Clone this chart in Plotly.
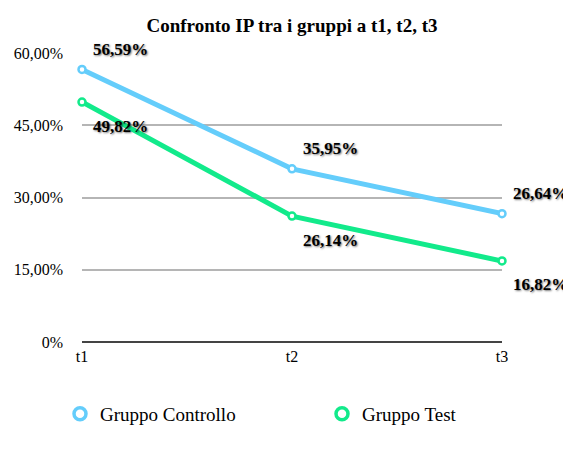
import plotly.graph_objects as go

categories = ["t1", "t2", "t3"]
controllo = [56.59, 35.95, 26.64]
test = [49.82, 26.14, 16.82]
series_names = ["Gruppo Controllo", "Gruppo Test"]
ytick_vals = [0, 15, 30, 45, 60]
ytick_text = ["0%", "15,00%", "30,00%", "45,00%", "60,00%"]

BLUE = "#64cdfb"
GREEN = "#12ea8b"
# the page body has an 8px margin, so the figure is drawn 8px in from the window edge
OFF = 8
W, H = 571 - OFF, 459 - OFF
ML, MR, MT, MB = 82 - OFF, 69, 53 - OFF, 117
PW, PH = W - ML - MR, H - MT - MB

def px2x(px):
    return (px - OFF - ML) / PW

def px2y(py):
    return (H - MB - (py - OFF)) / PH

def fmt(v):
    return f"{v:.2f}".replace(".", ",") + "%"

fig = go.Figure()
for vals, col in [(controllo, BLUE), (test, GREEN)]:
    fig.add_trace(go.Scatter(
        x=categories, y=vals, mode="lines+markers",
        line=dict(color=col, width=5),
        marker=dict(size=7, color="white", line=dict(color=col, width=2.5)),
        showlegend=False, cliponaxis=False, hoverinfo="skip"))

legend_ids = ["legend", "legend2"]
for name, col, lg in zip(series_names, [BLUE, GREEN], legend_ids):
    fig.add_trace(go.Scatter(
        x=[None], y=[None], mode="markers", name=name, legend=lg,
        marker=dict(size=12, color="white", line=dict(color=col, width=3.5))))

shadow = "1px 1px 2px rgba(0,0,0,0.55)"
label_font = dict(family="Liberation Serif", size=17, color="black", weight="bold", shadow=shadow)
annotations = []
for i, c in enumerate(categories):
    a, b = controllo[i], test[i]
    annotations.append(dict(x=c, y=a, text=fmt(a), showarrow=False,
                            xanchor="left", yanchor="middle", xshift=9, yshift=20,
                            font=label_font))
    annotations.append(dict(x=c, y=b, text=fmt(b), showarrow=False,
                            xanchor="left", yanchor="middle", xshift=9, yshift=-24,
                            font=label_font))

legend_common = dict(orientation="h", xanchor="left", yanchor="middle",
                     font=dict(size=19), bgcolor="rgba(0,0,0,0)")

fig.update_layout(
    width=W, height=H,
    margin=dict(l=ML, r=MR, t=MT, b=MB, autoexpand=False),
    paper_bgcolor="white", plot_bgcolor="white",
    font=dict(family="Liberation Serif", color="black"),
    title=dict(text="Confronto IP tra i gruppi a t1, t2, t3", x=(ML + PW / 2) / W,
               xanchor="center", y=1 - 17 / H, yanchor="middle",
               font=dict(family="Liberation Serif", size=19, color="black", weight="bold")),
    xaxis=dict(type="category", range=[0, 2], showgrid=False, showline=False, zeroline=False,
               tickfont=dict(size=16), ticks="", ticklabelstandoff=3, fixedrange=True),
    yaxis=dict(range=[0, 60], tickvals=ytick_vals, ticktext=ytick_text,
               showgrid=True, gridcolor="#b5b5b5", gridwidth=2,
               zeroline=True, zerolinecolor="#444444", zerolinewidth=2,
               showline=False, tickfont=dict(size=16), ticks="", ticklabelstandoff=18),
    legend=dict(x=px2x(60), y=px2y(414), **legend_common),
    legend2=dict(x=px2x(322), y=px2y(414), **legend_common),
    annotations=annotations,
)

fig.write_html("out.html")
